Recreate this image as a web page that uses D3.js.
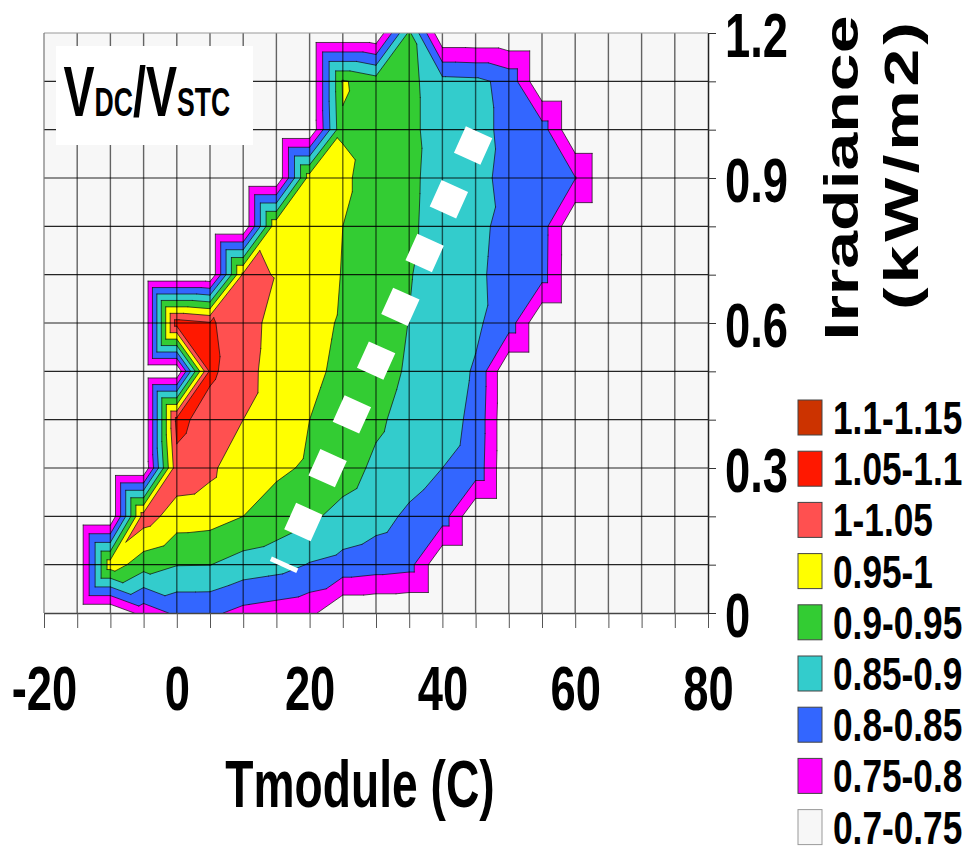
<!DOCTYPE html>
<html>
<head>
<meta charset="utf-8">
<script src="https://cdn.jsdelivr.net/npm/d3@7"></script>
<style>
  html, body { margin: 0; padding: 0; background: #fff; }
  svg { display: block; }
  text { font-family: "Liberation Sans", Arial, Helvetica, sans-serif; font-weight: bold; fill: #000; }
</style>
</head>
<body>
<svg id="chart" width="971" height="855"></svg>
<script>
// ---- data -------------------------------------------------------------
const tModule = [-20, -15, -10, -5, 0, 5, 10, 15, 20, 25, 30, 35, 40, 45, 50, 55, 60, 65, 70, 75, 80];
const irradiance = [0, 0.1, 0.2, 0.3, 0.4, 0.5, 0.6, 0.7, 0.8, 0.9, 1.0, 1.1, 1.2];
const _ = null; // no measurement in that bin

// VDC/VSTC, one row per irradiance bin (0 -> 1.2 kW/m2), one column per module temperature
const ratio = [
  [_, _, _, 0.77, 0.81, 0.81, 0.785, 0.775, 0.765, _, _, _, _, _, _, _, _, _, _, _, _],
  [_, _, 0.978, 0.922, 0.902, 0.901, 0.88, 0.87, 0.847, 0.835, 0.826, 0.818, _, _, _, _, _, _, _, _, _],
  [_, _, _, 1.025, 0.975, 0.97, 0.95, 0.93, 0.91, 0.883, 0.866, 0.842, 0.825, _, _, _, _, _, _, _, _],
  [_, _, _, _, 1.035, 1.012, 0.96, 0.958, 0.944, 0.925, 0.889, 0.87, 0.85, 0.835, _, _, _, _, _, _, _],
  [_, _, _, _, 1.065, 1.0275, 1.0, 0.975, 0.95, 0.93, 0.91, 0.88, 0.867, 0.84, _, _, _, _, _, _, _],
  [_, _, _, _, _, 1.06, 1.02, 0.976, 0.96, 0.94, 0.92, 0.894, 0.87, 0.846, _, _, _, _, _, _, _],
  [_, _, _, _, 1.075, 1.055, 1.027, 0.979, 0.965, 0.945, 0.925, 0.899, 0.872, 0.857, 0.826, _, _, _, _, _, _],
  [_, _, _, _, _, _, 1.01, 0.998, 0.975, 0.948, 0.925, 0.903, 0.875, 0.856, 0.838, 0.82, _, _, _, _, _],
  [_, _, _, _, _, _, _, 0.99, 0.975, 0.95, 0.92, 0.91, 0.875, 0.858, 0.84, 0.822, _, _, _, _, _],
  [_, _, _, _, _, _, _, _, 0.975, 0.962, 0.92, 0.912, 0.876, 0.865, 0.835, 0.82, 0.802, _, _, _, _],
  [_, _, _, _, _, _, _, _, _, 0.945, 0.93, 0.915, 0.87, 0.862, 0.84, 0.822, _, _, _, _, _],
  [_, _, _, _, _, _, _, _, _, 0.955, 0.925, 0.915, 0.866, 0.862, 0.835, _, _, _, _, _, _],
  [_, _, _, _, _, _, _, _, _, _, _, 0.91, _, _, _, _, _, _, _, _, _]
];

// contour bands (lower bound of each band) and their legend labels
const bandLower = [0.7, 0.75, 0.8, 0.85, 0.9, 0.95, 1.0, 1.05, 1.1];
const bandLabels = ["0.7-0.75", "0.75-0.8", "0.8-0.85", "0.85-0.9", "0.9-0.95", "0.95-1", "1-1.05", "1.05-1.1", "1.1-1.15"];
const bandColors = ["#f7f7f7", "#ff00ff", "#3366ff", "#33cccc", "#33cc33", "#ffff00", "#ff5050", "#ff1800", "#cc3300"];

// x-axis labels every 20 C, y-axis labels every 0.3 kW/m2
const xLabelStep = 20;
const yLabelEvery = 3;

// reference operating line (module temperature vs irradiance)
const trendT = [16.0, 45.7];
const trendG = [0.095, 1.0];

// ---- layout -----------------------------------------------------------
const plot = { left: 44, right: 708, top: 33, bottom: 613 };
const squeeze = 0.72; // horizontal condensation of the bold lettering

const x = d3.scaleLinear().domain([tModule[0], tModule[tModule.length - 1]]).range([plot.left, plot.right]);
const y = d3.scaleLinear().domain([irradiance[0], irradiance[irradiance.length - 1]]).range([plot.bottom, plot.top]);

const svg = d3.select("#chart");

svg.append("defs").append("clipPath").attr("id", "plotClip")
  .append("rect")
  .attr("x", plot.left).attr("y", plot.top)
  .attr("width", plot.right - plot.left).attr("height", plot.bottom - plot.top);

const plotG = svg.append("g").attr("clip-path", "url(#plotClip)");

// background = lowest band
plotG.append("rect")
  .attr("x", plot.left).attr("y", plot.top)
  .attr("width", plot.right - plot.left).attr("height", plot.bottom - plot.top)
  .attr("fill", bandColors[0]);

// ---- triangulated iso-bands -------------------------------------------
const floorValue = bandLower[0];
const value = (i, j) => { const v = ratio[j][i]; return v == null ? floorValue : v; };

const tris = [];
for (let j = 0; j < irradiance.length - 1; j++) {
  for (let i = 0; i < tModule.length - 1; i++) {
    const corners = [[i, j], [i + 1, j], [i + 1, j + 1], [i, j + 1]].map(([a, b]) => ({
      px: x(tModule[a]), py: y(irradiance[b]), v: value(a, b)
    }));
    if (d3.max(corners, c => c.v) < bandLower[1]) continue;
    const [a, b, c, d] = corners;
    // split each cell along the diagonal joining the higher corners
    if (a.v + c.v >= b.v + d.v) tris.push([a, b, c], [a, c, d]);
    else tris.push([a, b, d], [b, c, d]);
  }
}

function clipAbove(tri, level) {
  const out = [];
  for (let k = 0; k < tri.length; k++) {
    const p = tri[k], q = tri[(k + 1) % tri.length];
    const pin = p.v >= level, qin = q.v >= level;
    if (pin) out.push([p.px, p.py]);
    if (pin !== qin) {
      const t = (level - p.v) / (q.v - p.v);
      out.push([p.px + t * (q.px - p.px), p.py + t * (q.py - p.py)]);
    }
  }
  return out;
}

function isoSegment(tri, level) {
  const pts = [];
  for (let k = 0; k < 3; k++) {
    const p = tri[k], q = tri[(k + 1) % 3];
    if ((p.v >= level) !== (q.v >= level)) {
      const t = (level - p.v) / (q.v - p.v);
      pts.push([p.px + t * (q.px - p.px), p.py + t * (q.py - p.py)]);
    }
  }
  return pts.length === 2 ? pts : null;
}

const fillG = plotG.append("g");
bandLower.forEach((level, k) => {
  if (k === 0) return;
  const p = d3.path();
  tris.forEach(tri => {
    const poly = clipAbove(tri, level);
    if (poly.length < 3) return;
    p.moveTo(poly[0][0], poly[0][1]);
    for (let n = 1; n < poly.length; n++) p.lineTo(poly[n][0], poly[n][1]);
    p.closePath();
  });
  fillG.append("path").attr("d", p.toString() || null).attr("fill", bandColors[k]);
});

const lineP = d3.path();
bandLower.slice(1).forEach(level => {
  tris.forEach(tri => {
    const s = isoSegment(tri, level);
    if (s) { lineP.moveTo(s[0][0], s[0][1]); lineP.lineTo(s[1][0], s[1][1]); }
  });
});
plotG.append("path")
  .attr("d", lineP.toString())
  .attr("fill", "none")
  .attr("stroke", "#111")
  .attr("stroke-width", 0.8)
  .attr("stroke-opacity", 0.9)
  .attr("stroke-linecap", "round");

// ---- gridlines --------------------------------------------------------
const gridG = plotG.append("g");
gridG.selectAll("line.v").data(tModule.slice(1, -1)).join("line")
  .attr("class", "v")
  .attr("x1", d => x(d)).attr("x2", d => x(d))
  .attr("y1", plot.top).attr("y2", plot.bottom)
  .attr("stroke", "#000").attr("stroke-opacity", 0.6).attr("stroke-width", 1.4);
gridG.selectAll("line.h").data(irradiance.slice(1, -1)).join("line")
  .attr("class", "h")
  .attr("x1", plot.left).attr("x2", plot.right)
  .attr("y1", d => y(d)).attr("y2", d => y(d))
  .attr("stroke", "#000").attr("stroke-opacity", 0.85).attr("stroke-width", 1.2);

// ---- dashed operating line -------------------------------------------
plotG.append("path")
  .datum(trendT.map((t, i) => [t, trendG[i]]))
  .attr("d", d3.line().x(d => x(d[0])).y(d => y(d[1])))
  .attr("fill", "none")
  .attr("stroke", "#fff")
  .attr("stroke-width", 29)
  .attr("stroke-dasharray", "29 30")
  .attr("stroke-dashoffset", 24)
  .attr("stroke-linecap", "butt");

// ---- plot frame -------------------------------------------------------
svg.append("line")
  .attr("x1", plot.left).attr("x2", plot.right).attr("y1", plot.top).attr("y2", plot.top)
  .attr("stroke", "#999").attr("stroke-width", 1);
svg.append("line")
  .attr("x1", plot.left).attr("x2", plot.left).attr("y1", plot.top).attr("y2", plot.bottom)
  .attr("stroke", "#777").attr("stroke-width", 1.2);

// ---- title box --------------------------------------------------------
svg.append("rect").attr("x", 56).attr("y", 46).attr("width", 197).attr("height", 99).attr("fill", "#fff");
const titleSqueeze = 0.665;
const title = svg.append("text")
  .attr("transform", `scale(${titleSqueeze},1)`)
  .attr("x", 63.5 / titleSqueeze)
  .attr("y", 116.5);
[["V", 70], ["DC", 40], ["/", 70], ["V", 70], ["STC", 40]].forEach(([s, fs]) => {
  title.append("tspan").style("font-size", fs + "px").text(s);
});

// ---- axes -------------------------------------------------------------
const xAxis = d3.axisBottom(x)
  .tickValues(tModule)
  .tickSize(15)
  .tickSizeOuter(0)
  .tickFormat(d => (d % xLabelStep === 0 ? String(d) : ""));
const gx = svg.append("g").attr("transform", `translate(0,${plot.bottom})`).call(xAxis);
gx.attr("font-family", null).attr("font-size", null);
gx.select(".domain").attr("stroke", "#444").attr("stroke-width", 1.5);
gx.selectAll(".tick line").attr("stroke", "#555").attr("stroke-width", 1);
gx.selectAll(".tick text")
  .attr("y", 97).attr("dy", null)
  .attr("transform", `scale(${squeeze},1)`)
  .style("font-size", "63px");

const yAxis = d3.axisRight(y)
  .tickValues(irradiance)
  .tickSize(8)
  .tickSizeOuter(0)
  .tickFormat((d, i) => (i % yLabelEvery === 0 ? (d === 0 ? "0" : d.toFixed(1)) : ""));
const gy = svg.append("g").attr("transform", `translate(${plot.right},0)`).call(yAxis);
gy.attr("font-family", null).attr("font-size", null);
gy.select(".domain").attr("stroke", "#222").attr("stroke-width", 1.5);
gy.selectAll(".tick line").attr("stroke", "#333").attr("stroke-width", 1);
gy.selectAll(".tick text")
  .attr("x", 17 / squeeze).attr("dy", null).attr("y", 23)
  .attr("text-anchor", "start")
  .attr("transform", `scale(${squeeze},1)`)
  .style("font-size", "63px");

// axis titles
svg.append("text")
  .attr("transform", `translate(360,807) scale(0.7,1)`)
  .attr("text-anchor", "middle")
  .style("font-size", "66px")
  .text("Tmodule (C)");

svg.append("text")
  .attr("transform", `translate(858,178) scale(${squeeze},1) rotate(-90)`)
  .attr("text-anchor", "middle")
  .style("font-size", "68px")
  .text("Irradiance");
svg.append("text")
  .attr("transform", `translate(918,166) scale(${squeeze},1) rotate(-90)`)
  .attr("text-anchor", "middle")
  .attr("textLength", 288)
  .attr("lengthAdjust", "spacing")
  .style("font-size", "68px")
  .text("(kW/m2)");

// ---- legend -----------------------------------------------------------
const legendSqueeze = 0.75;
const legendItems = d3.range(bandLower.length).reverse();
const legend = svg.append("g");
legendItems.forEach((k, row) => {
  const top = 400 + row * 51.2;
  legend.append("rect")
    .attr("x", 798).attr("y", top)
    .attr("width", 24).attr("height", 35)
    .attr("fill", bandColors[k])
    .attr("stroke", k === 0 ? "#999" : "#444")
    .attr("stroke-width", 1);
  legend.append("text")
    .attr("transform", `scale(${legendSqueeze},1)`)
    .attr("x", 833 / legendSqueeze)
    .attr("y", top + 34)
    .style("font-size", "47px")
    .text(bandLabels[k]);
});
</script>
</body>
</html>
